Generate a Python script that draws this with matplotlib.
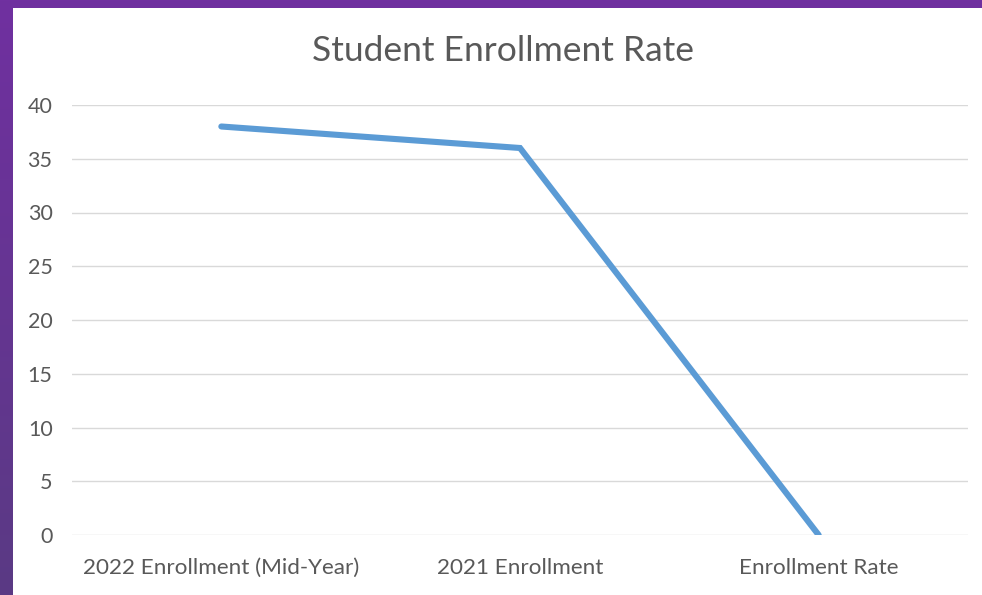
import matplotlib.pyplot as plt
import numpy as np
from matplotlib.colors import LinearSegmentedColormap

categories = ['2022 Enrollment (Mid-Year)', '2021 Enrollment', 'Enrollment Rate']
enrollment = [38, 36, 0]
y_ticks = [0, 5, 10, 15, 20, 25, 30, 35, 40]

plt.rcParams['font.family'] = ['Lato', 'DejaVu Sans']

fig = plt.figure(figsize=(9.82, 5.95), dpi=100)
fig.patch.set_facecolor('#7030A0')

# purple frame with a soft gradient down the left side
bg = fig.add_axes([0, 0, 1, 1], zorder=-2)
grad = np.linspace(0, 1, 256).reshape(-1, 1)
cmap = LinearSegmentedColormap.from_list('frame', ['#7030A0', '#5A3A84'])
bg.imshow(grad, aspect='auto', cmap=cmap, extent=[0, 1, 0, 1], origin='upper')
bg.set_axis_off()

# white chart area
card = fig.add_axes([13 / 982, 0, 1 - 13 / 982, 1 - 8 / 595], zorder=-1)
card.set_facecolor('white')
card.set_xticks([])
card.set_yticks([])
for s in card.spines.values():
    s.set_visible(False)

ax = fig.add_axes([72 / 982, 1 - 535 / 595, (968 - 72) / 982, (535 - 105) / 595])
ax.set_facecolor('none')
x = np.arange(len(categories))
ax.plot(x, enrollment, color='#5B9BD5', linewidth=4.4, solid_capstyle='round', solid_joinstyle='miter', zorder=3)

ax.set_xlim(-0.5, len(categories) - 0.5)
ax.set_ylim(0, 40)
ax.set_yticks(y_ticks)
ax.set_xticks(x)
ax.set_xticklabels(categories)
ax.grid(axis='y', color='#D9D9D9', linewidth=1)
ax.set_axisbelow(True)
for s in ax.spines.values():
    s.set_visible(False)
ax.tick_params(axis='both', length=0, labelcolor='#595959')
ax.tick_params(axis='y', pad=14, labelsize=15.5)
ax.tick_params(axis='x', pad=28, labelsize=16.2)
for lbl in ax.get_xticklabels():
    lbl.set_va('baseline')

fig.text(503 / 982, 1 - 51 / 595, 'Student Enrollment Rate', ha='center', va='center',
         fontsize=25.5, color='#595959')

fig.savefig('out.png', dpi=100)
